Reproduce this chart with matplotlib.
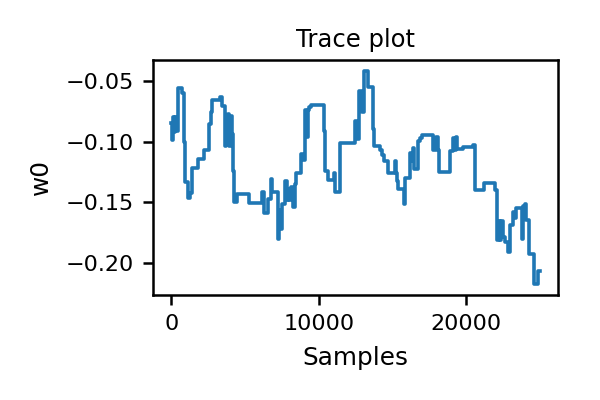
import numpy as np
import matplotlib.pyplot as plt

# sample index where the chain jumps, and the w0 value it holds from there on
samples = [0, 35, 100, 140, 200, 270, 340, 430, 750, 840,
           890, 1110, 1230, 1410, 1800, 2200, 2550, 2660, 2750, 3280,
           3410, 3620, 3690, 3750, 3820, 3920, 4030, 4100, 4180, 4230,
           4420, 5280, 6160, 6300, 6570, 6740, 6850, 7210, 7300, 7440,
           7530, 7710, 7830, 7940, 8010, 8120, 8280, 8400, 8470, 8790,
           8920, 9080, 9190, 9300, 9370, 9490, 10380, 10410, 10630, 11060,
           11130, 11420, 12490, 12610, 12720, 12950, 13060, 13330, 13670, 13740,
           14130, 14310, 14420, 14690, 15150, 15220, 15290, 15380, 15770, 15840,
           16180, 16290, 16400, 16470, 16740, 16860, 17000, 17790, 17950, 18070,
           18180, 18930, 19090, 19250, 19320, 19390, 19780, 20460, 20620, 21250,
           21980, 22100, 22140, 22210, 22280, 22350, 22510, 22660, 22850, 23000,
           23190, 23300, 23410, 23800, 23870, 23980, 24100, 24280, 24650, 24900,
           24999]
w0 = [-0.085, -0.099, -0.085, -0.080, -0.092, -0.080, -0.091, -0.056, -0.060, -0.1005,
      -0.133, -0.146, -0.142, -0.122, -0.114, -0.107, -0.0855, -0.076, -0.066, -0.063,
      -0.0705, -0.104, -0.078, -0.100, -0.077, -0.104, -0.079, -0.094, -0.124, -0.150,
      -0.143, -0.1505, -0.1415, -0.159, -0.147, -0.1305, -0.1415, -0.180, -0.1565, -0.1715,
      -0.151, -0.132, -0.148, -0.139, -0.148, -0.137, -0.154, -0.1345, -0.1257, -0.110,
      -0.115, -0.074, -0.0965, -0.074, -0.0718, -0.0697, -0.091, -0.1243, -0.1314, -0.126,
      -0.1415, -0.1013, -0.0833, -0.098, -0.0588, -0.076, -0.0418, -0.055, -0.0896, -0.1033,
      -0.107, -0.111, -0.1156, -0.1257, -0.116, -0.1257, -0.132, -0.139, -0.1516, -0.1298,
      -0.1095, -0.116, -0.105, -0.1225, -0.0997, -0.097, -0.095, -0.107, -0.096, -0.107,
      -0.1252, -0.1074, -0.097, -0.107, -0.0965, -0.106, -0.1047, -0.1025, -0.1396, -0.1342,
      -0.140, -0.1593, -0.1811, -0.1653, -0.181, -0.1653, -0.1784, -0.1825, -0.1907, -0.1689,
      -0.158, -0.163, -0.1547, -0.180, -0.153, -0.1516, -0.1648, -0.192, -0.2172, -0.2063,
      -0.2063]

plt.rcParams['xtick.labelsize'] = 16
plt.rcParams['ytick.labelsize'] = 16
plt.rcParams['axes.linewidth'] = 1.8
plt.rcParams['xtick.major.size'] = 7.5
plt.rcParams['ytick.major.size'] = 7.5
plt.rcParams['xtick.major.width'] = 1.8
plt.rcParams['ytick.major.width'] = 1.8
plt.rcParams['xtick.major.pad'] = 6
plt.rcParams['ytick.major.pad'] = 6

fig = plt.figure(figsize=(6, 4), dpi=100)
ax = fig.add_axes([0.255, 0.2625, 0.675, 0.5875])
ax.step(samples, w0, where='post', color='#1f77b4', linewidth=2.6)
ax.set_xticks([0, 10000, 20000])
ax.set_yticks([-0.05, -0.10, -0.15, -0.20])
ax.set_title('Trace plot', fontsize=17.5, pad=9)
ax.set_xlabel('Samples', fontsize=17.8, labelpad=9)
ax.set_ylabel('w0', fontsize=17.8, labelpad=9)
fig.savefig('out.png', dpi=100)
